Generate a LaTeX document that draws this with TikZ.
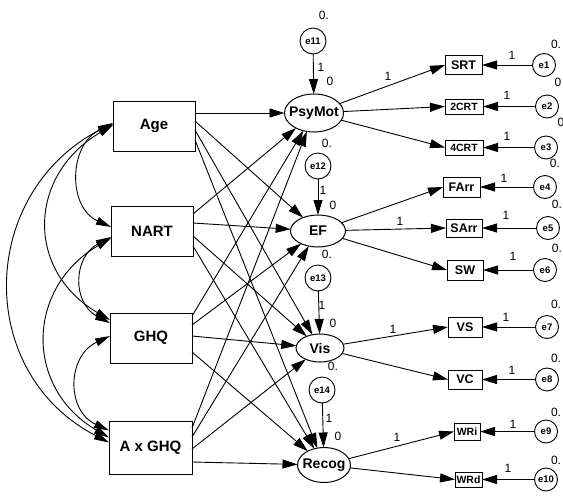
\documentclass[tikz,border=0pt]{standalone}
\usepackage{fontspec}
\setmainfont{Liberation Sans}
\usetikzlibrary{arrows.meta,shapes.geometric}
\begin{document}
\begin{tikzpicture}[x=1pt,y=-1pt,
  every node/.style={inner sep=0pt, outer sep=0pt},
  pred/.style={draw, line width=1pt, minimum width=82pt, minimum height=50pt, font=\fontsize{15}{15}\selectfont\bfseries},
  lat/.style={draw, ellipse, line width=1pt, font=\fontsize{14}{14}\selectfont\bfseries},
  ind/.style={draw, line width=1pt, font=\fontsize{12.5}{12.5}\selectfont\bfseries},
  indsmall/.style={ind, font=\fontsize{10.5}{10.5}\selectfont\bfseries},
  err/.style={draw, circle, line width=0.9pt, minimum size=23pt, font=\fontsize{9.5}{9.5}\selectfont\bfseries},
  lerr/.style={err, minimum size=26pt},
  num/.style={font=\fontsize{12}{12}\selectfont},
  reg/.style={line width=0.9pt, -{Triangle[length=15pt,width=9pt]}},
  cov/.style={line width=0.9pt, {Triangle[length=15pt,width=8pt]}-{Triangle[length=15pt,width=8pt]}},
]
\fill[white] (0,0) rectangle (563,499);
\useasboundingbox (0,0) rectangle (563,499);

% predictors
\node[pred] (Age) at (154,126) {Age};
\node[pred] (NART) at (152,231) {NART};
\node[pred] (GHQ) at (151,338) {GHQ};
\node[pred, minimum width=83pt, minimum height=53pt] (AxG) at (150.5,447.5) {A x GHQ};

% latents
\node[lat, minimum width=59pt, minimum height=38pt] (PsyMot) at (314,113) {\makebox[0pt]{PsyMot}};
\node[lat, minimum width=55pt, minimum height=32pt] (EF) at (318,231) {\makebox[0pt]{EF}};
\node[lat, minimum width=48pt, minimum height=28pt] (Vis) at (320,348) {\makebox[0pt]{Vis}};
\node[lat, minimum width=53pt, minimum height=35pt] (Recog) at (324,465) {\makebox[0pt]{Recog}};

% latent errors
\node[lerr] (e11) at (313,41) {e11};
\node[lerr] (e12) at (318,166) {e12};
\node[lerr] (e13) at (318,278) {e13};
\node[lerr] (e14) at (322,390) {e14};

% indicators
\node[ind, minimum width=37pt, minimum height=19pt] (SRT) at (463.5,65) {SRT};
\node[indsmall, minimum width=38pt, minimum height=15pt] (CRT2) at (464,106.5) {2CRT};
\node[indsmall, minimum width=38pt, minimum height=15pt] (CRT4) at (464,147.5) {4CRT};
\node[ind, minimum width=37pt, minimum height=20pt] (FArr) at (461.5,187) {FArr};
\node[ind, minimum width=36pt, minimum height=18pt] (SArr) at (464,228) {SArr};
\node[ind, minimum width=36pt, minimum height=20pt] (SW) at (465,270) {SW};
\node[ind, minimum width=34pt, minimum height=20pt] (VS) at (465,327) {VS};
\node[ind, minimum width=34pt, minimum height=19pt] (VC) at (465,379.5) {VC};
\node[indsmall, minimum width=26pt, minimum height=17pt] (WRi) at (467,431.5) {WRi};
\node[indsmall, minimum width=27pt, minimum height=15pt] (WRd) at (468.5,479.5) {WRd};

% indicator errors
\node[err] (e1) at (544,65) {e1};
\node[err] (e2) at (547,106.5) {e2};
\node[err] (e3) at (546,147.5) {e3};
\node[err] (e4) at (545,187) {e4};
\node[err] (e5) at (548,228) {e5};
\node[err] (e6) at (545,270) {e6};
\node[err] (e7) at (547,327) {e7};
\node[err] (e8) at (547,379.5) {e8};
\node[err] (e9) at (546,431.5) {e9};
\node[err] (e10) at (546,479.5) {e10};

% error -> latent
\draw[reg] (e11) -- (PsyMot);
\draw[reg] (e12) -- (EF);
\draw[reg] (e13) -- (Vis);
\draw[reg] (e14) -- (Recog);

% predictors -> latents
\draw[reg] ([yshift=13pt]Age.east) -- (PsyMot);
\draw[reg] ([yshift=5pt]Age.east) -- (EF);
\draw[reg] ([yshift=-4pt]Age.east) -- (Vis);
\draw[reg] ([yshift=-14pt]Age.east) -- (Recog);
\draw[reg] ([yshift=17pt]NART.east) -- (PsyMot);
\draw[reg] ([yshift=8pt]NART.east) -- (EF);
\draw[reg] ([yshift=-5pt]NART.east) -- (Vis);
\draw[reg] ([yshift=-15pt]NART.east) -- (Recog);
\draw[reg] ([yshift=22pt]GHQ.east) -- (PsyMot);
\draw[reg] ([yshift=13pt]GHQ.east) -- (EF);
\draw[reg] ([yshift=2pt]GHQ.east) -- (Vis);
\draw[reg] ([yshift=-14pt]GHQ.east) -- (Recog);
\draw[reg] ([yshift=19.5pt]AxG.east) -- (PsyMot);
\draw[reg] ([yshift=10.5pt]AxG.east) -- (EF);
\draw[reg] ([yshift=-1.5pt]AxG.east) -- (Vis);
\draw[reg] ([yshift=-14.5pt]AxG.east) -- (Recog);

% latents -> indicators
\draw[reg] (PsyMot) -- (SRT.west);
\draw[reg] (PsyMot) -- (CRT2.west);
\draw[reg] (PsyMot) -- (CRT4.west);
\draw[reg] (EF) -- (FArr.west);
\draw[reg] (EF) -- (SArr.west);
\draw[reg] (EF) -- (SW.west);
\draw[reg] (Vis) -- (VS.west);
\draw[reg] (Vis) -- (VC.west);
\draw[reg] (Recog) -- (WRi.west);
\draw[reg] (Recog) -- (WRd.west);

% errors -> indicators
\draw[reg] (e1) -- (SRT.east);
\draw[reg] (e2) -- (CRT2.east);
\draw[reg] (e3) -- (CRT4.east);
\draw[reg] (e4) -- (FArr.east);
\draw[reg] (e5) -- (SArr.east);
\draw[reg] (e6) -- (SW.east);
\draw[reg] (e7) -- (VS.east);
\draw[reg] (e8) -- (VC.east);
\draw[reg] (e9) -- (WRi.east);
\draw[reg] (e10) -- (WRd.east);

% covariances
\draw[cov] ([yshift=2pt]Age.west) .. controls +(-44,20) and +(-44,-20) .. ([yshift=4pt]NART.west);
\draw[cov] ([yshift=-6pt]NART.west) .. controls +(-38,20) and +(-38,-20) .. ([yshift=15pt]GHQ.west);
\draw[cov] ([yshift=2pt]GHQ.west) .. controls +(-43,20) and +(-43,-20) .. ([yshift=17pt]AxG.west);
\draw[cov] ([yshift=1pt]Age.west) .. controls +(-85,50) and +(-85,-50) .. ([yshift=18pt]GHQ.west);
\draw[cov] ([yshift=-7pt]NART.west) .. controls +(-85,50) and +(-85,-50) .. ([yshift=10pt]AxG.west);
\draw[cov] ([yshift=3pt]Age.west) .. controls +(-135,70) and +(-135,-70) .. ([yshift=5pt]AxG.west);

% numbers near latent errors
\node[num] (n11a) at (324,15) {0.};
\node[num] (n11b) at (321,67) {1};
\node[num] (n11c) at (330,81) {0};
\node[num] (nPM) at (327,143) {0.};
\node[num] (n12b) at (323,190) {1};
\node[num] (n12c) at (333,205) {0};
\node[num] (nEF) at (327,254) {0.};
\node[num] (n13b) at (322,305) {1};
\node[num] (n13c) at (333,323) {0};
\node[num] (nVis) at (333,366) {0.};
\node[num] (n14b) at (329,418) {1};
\node[num] (n14c) at (338,436) {0};

% loadings
\node[num] (lSRT) at (388,76) {1};
\node[num] (lSArr) at (400,221) {1};
\node[num] (lVS) at (393,329) {1};
\node[num] (lWRi) at (397,437) {1};

% error loadings
\node[num] (l1) at (512,55) {1};
\node[num] (l2) at (507,95) {1};
\node[num] (l3) at (507,136) {1};
\node[num] (l4) at (504,178) {1};
\node[num] (l5) at (506,215) {1};
\node[num] (l6) at (513,256) {1};
\node[num] (l7) at (506,317) {1};
\node[num] (l8) at (512,370) {1};
\node[num] (l9) at (513,424) {1};
\node[num] (l10) at (508,468) {1};

% variances
\node[num] (v1) at (556,44) {0.};
\node[num] (v2) at (558,82) {0};
\node[num] (v3) at (561,122) {0};
\node[num] (v4) at (555,163) {0.};
\node[num] (v5) at (557,204) {0.};
\node[num] (v6) at (557,248) {0.};
\node[num] (v7) at (556,304) {0.};
\node[num] (v8) at (556,358) {0.};
\node[num] (v9) at (556,412) {0.};
\node[num] (v10) at (556,460) {0.};
\end{tikzpicture}
\end{document}
